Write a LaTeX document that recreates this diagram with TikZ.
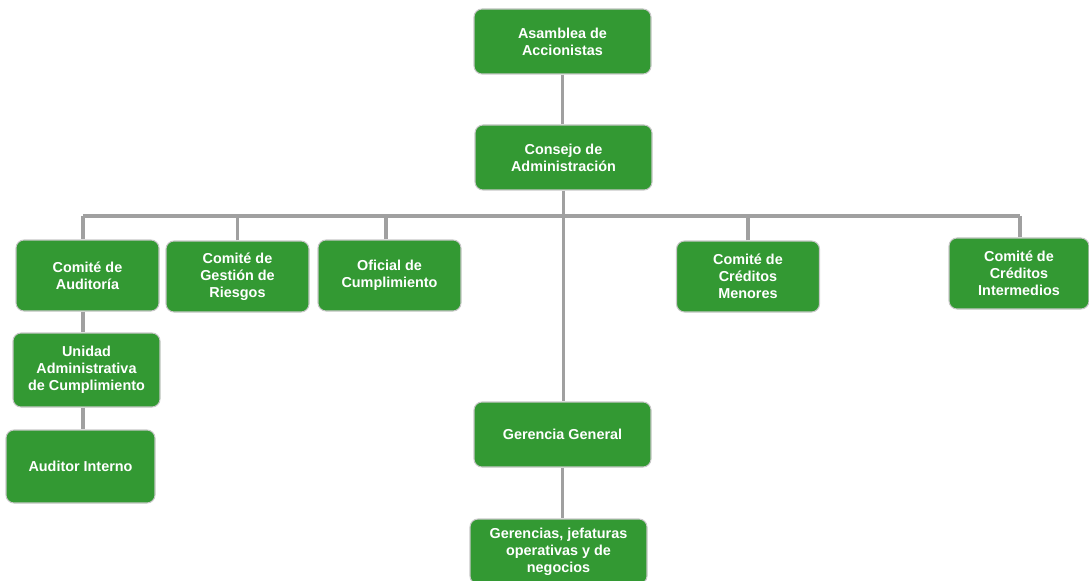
\documentclass[tikz,border=0pt]{standalone}
\usepackage{fontspec}
\setmainfont{Liberation Sans}
\definecolor{boxgreen}{RGB}{51,153,51}
\definecolor{linegray}{RGB}{160,160,160}
\definecolor{edgegray}{RGB}{200,200,200}
\begin{document}
\begin{tikzpicture}[x=0.75pt,y=-0.75pt,
  box/.style={draw=edgegray, line width=0.8pt, fill=boxgreen, rounded corners=6pt,
    text=white, font=\bfseries\fontsize{10.8}{12.75}\selectfont, align=center, inner sep=2pt},
  bigbox/.style={box, minimum width=132.75pt, minimum height=48.75pt},
  combox/.style={box, minimum width=107.25pt, minimum height=53.25pt},
  link/.style={draw=linegray, line width=2.4pt}]
\useasboundingbox (0,0) rectangle (1089,581);
% top of the chart
\node[bigbox] (asam) at (562.5,41.5) {Asamblea de\\Accionistas};
\node[bigbox] (cons) at (563.5,157.5) {Consejo de\\Administraci\'on};
% committees
\node[combox] (aud) at (87.5,275.5) {Comit\'e de\\Auditor\'ia};
\node[combox] (ries) at (237.5,276.5) {Comit\'e de\\Gesti\'on de\\Riesgos};
\node[combox] (ofi) at (389.5,275.5) {Oficial de\\Cumplimiento};
\node[combox] (men) at (748,276.5) {Comit\'e de\\Cr\'editos\\Menores};
\node[combox, minimum width=105pt] (inter) at (1019,273.5) {Comit\'e de\\Cr\'editos\\Intermedios};
% audit branch
\node[box, minimum width=110.25pt, minimum height=55.5pt] (uni) at (86.5,370) {Unidad\\Administrativa\\de Cumplimiento};
\node[box, minimum width=111.75pt, minimum height=54.75pt] (audint) at (80.5,466.5) {Auditor Interno};
% management
\node[bigbox] (ger) at (562.5,434.5) {Gerencia General};
\node[bigbox] (gers) at (558.5,551.5) {Gerencias, jefaturas\\operativas y de\\negocios};
% connectors
\coordinate (busl) at (83,216);
\coordinate (busr) at (1020,216);
\draw[link] (asam.south) -- (asam.south |- cons.north);
\draw[link] (cons.south) -- (cons.south |- ger.north);
\draw[link] (ger.south) -- (ger.south |- gers.north);
\draw[link] (busl) -- (busr);
\draw[link] (busl) -- (busl |- aud.north);
\draw[link] (ries.north) -- (ries.north |- busl);
\draw[link] (ofi.north) ++(-3.5,0) -- ++(0,-24.5);
\draw[link] (men.north) -- (men.north |- busl);
\draw[link] (busr) -- (busr |- inter.north);
\draw[link] (aud.south -| busl) -- (uni.north -| busl);
\draw[link] (uni.south -| busl) -- (audint.north -| busl);
\end{tikzpicture}
\end{document}
